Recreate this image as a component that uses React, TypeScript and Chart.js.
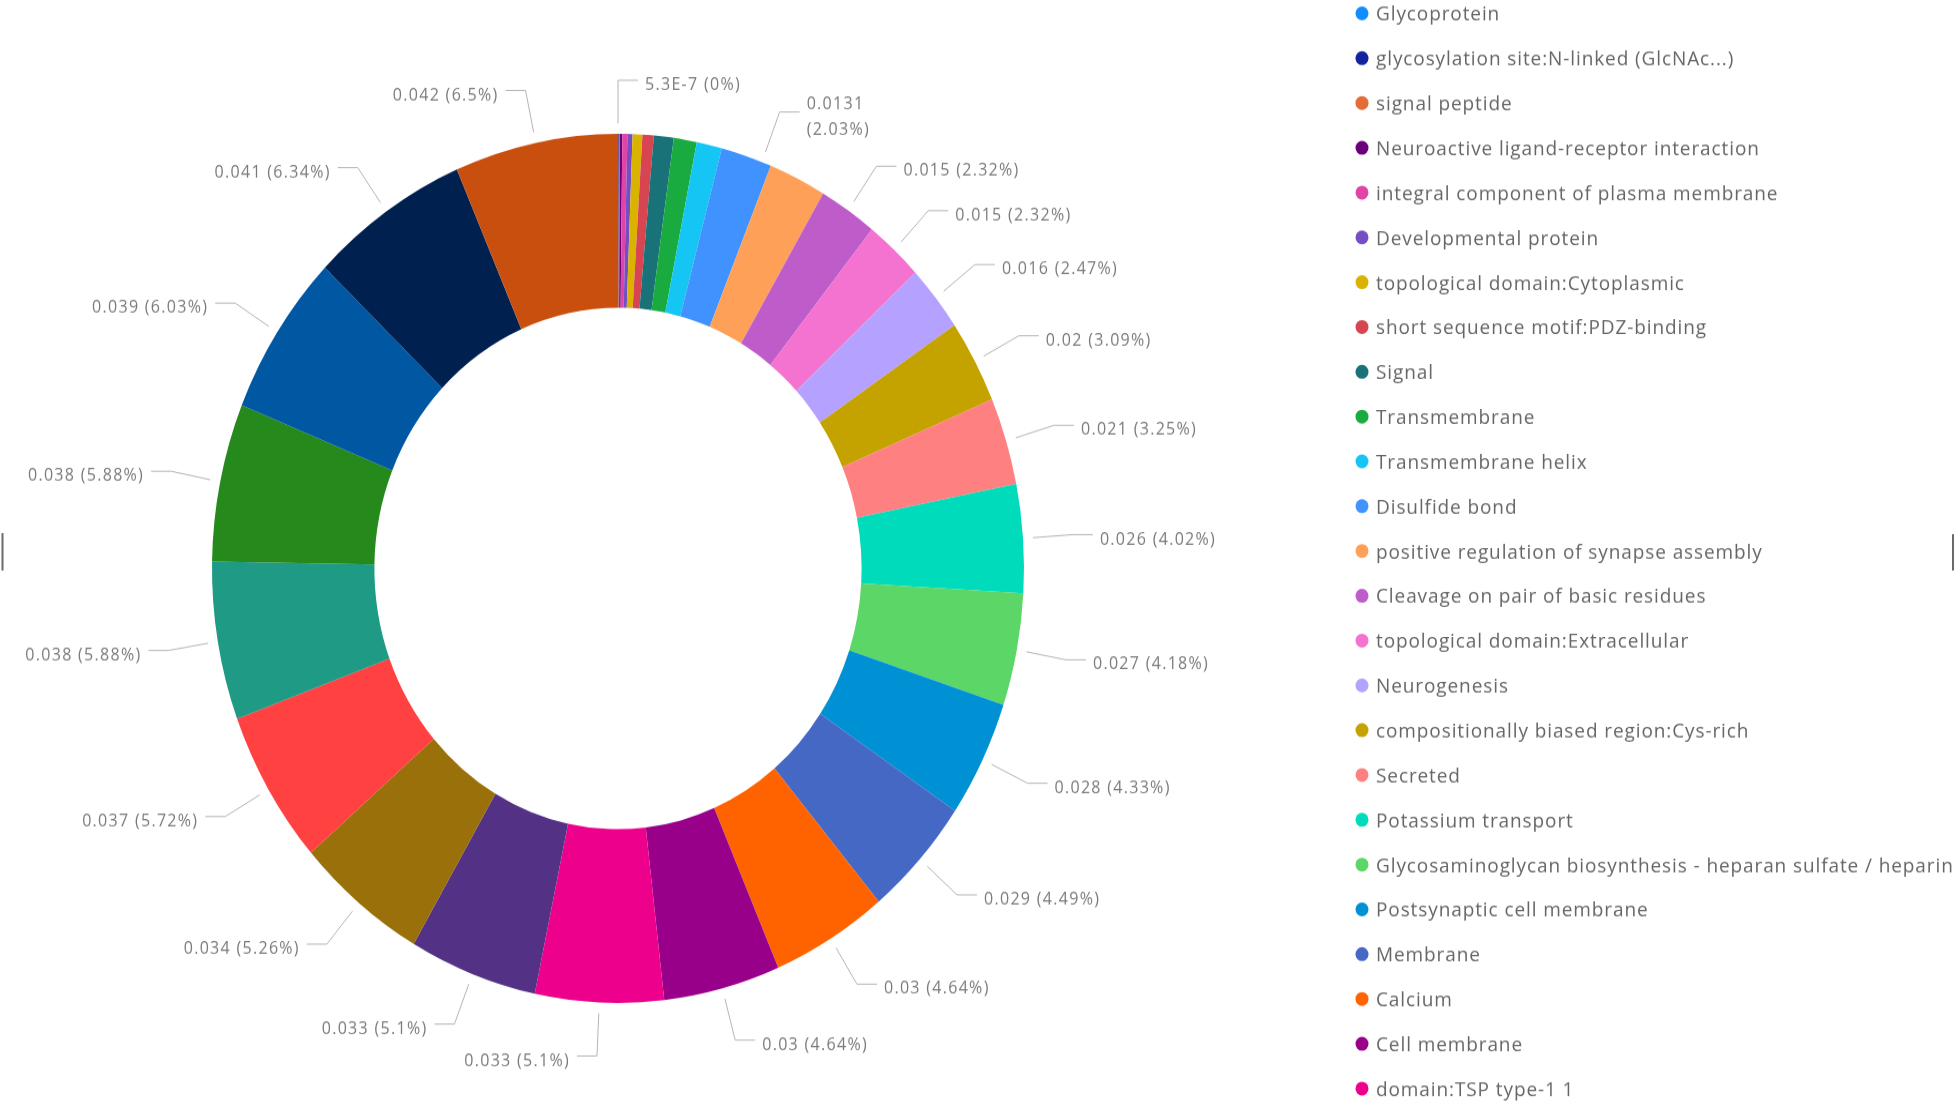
import React, { useEffect, useRef } from 'react';
import { Chart, registerables } from 'chart.js';

Chart.register(...registerables);

// ---- data ----
const categories: string[] = [
  'Glycoprotein',
  'glycosylation site:N-linked (GlcNAc...)',
  'signal peptide',
  'Neuroactive ligand-receptor interaction',
  'integral component of plasma membrane',
  'Developmental protein',
  'topological domain:Cytoplasmic',
  'short sequence motif:PDZ-binding',
  'Signal',
  'Transmembrane',
  'Transmembrane helix',
  'Disulfide bond',
  'positive regulation of synapse assembly',
  'Cleavage on pair of basic residues',
  'topological domain:Extracellular',
  'Neurogenesis',
  'compositionally biased region:Cys-rich',
  'Secreted',
  'Potassium transport',
  'Glycosaminoglycan biosynthesis - heparan sulfate / heparin',
  'Postsynaptic cell membrane',
  'Membrane',
  'Calcium',
  'Cell membrane',
  'domain:TSP type-1 1',
  'Category 26',
  'Category 27',
  'Category 28',
  'Category 29',
  'Category 30',
  'Category 31',
  'Category 32',
  'Category 33',
];

const values: number[] = [
  0.00000053, 0.0002, 0.0003, 0.0006, 0.0013, 0.0013, 0.0025, 0.0029, 0.0051, 0.0059, 0.0065,
  0.0131, 0.0148, 0.015, 0.015, 0.016, 0.02, 0.021, 0.026, 0.027, 0.028, 0.029, 0.03, 0.03,
  0.033, 0.033, 0.034, 0.037, 0.038, 0.038, 0.039, 0.041, 0.042,
];

const colors: string[] = [
  '#118DFF', '#12239E', '#E66C37', '#6B007B', '#E044A7', '#744EC2', '#D9B300', '#D64550',
  '#197278', '#1AAB40', '#15C6F4', '#4092FF', '#FFA058', '#BE5DC9', '#F472D0', '#B5A1FF',
  '#C4A200', '#FF8080', '#00DBBC', '#5BD667', '#0091D5', '#4668C5', '#FF6300', '#99008A',
  '#EC008C', '#533285', '#99700A', '#FF4141', '#1F9A85', '#25891C', '#0057A2', '#002050',
  '#C94F0F',
];

// data labels that the original hides (too crowded) and the one drawn on two lines
const hiddenDataLabels: string[] = [
  'glycosylation site:N-linked (GlcNAc...)',
  'signal peptide',
  'Neuroactive ligand-receptor interaction',
  'integral component of plasma membrane',
  'Developmental protein',
  'topological domain:Cytoplasmic',
  'short sequence motif:PDZ-binding',
  'Signal',
  'Transmembrane',
  'Transmembrane helix',
  'positive regulation of synapse assembly',
];
const wrappedDataLabels: string[] = ['Disulfide bond'];
// small angular nudge (degrees) of a leader line, as the original layout does
const leaderNudgeDeg: Record<string, number> = { 'Disulfide bond': 2.3 };

// ---- layout ----
const CANVAS_W = 1960;
const CANVAS_H = 1036;
const STRETCH_Y = 1109 / CANVAS_H;
const OUTER_R = 406;
const TEXT_DY = 4.5;

function formatValue(v: number): string {
  if (v !== 0 && Math.abs(v) < 1e-4) return v.toExponential(1).replace('e', 'E');
  return String(v);
}

const total = values.reduce((a, b) => a + b, 0);
function formatPct(v: number): string {
  return `${+((v / total) * 100).toFixed(2)}%`;
}

const outerLabelsPlugin = {
  id: 'outerLabels',
  afterDatasetsDraw(chart: any) {
    const ctx: CanvasRenderingContext2D = chart.ctx;
    const meta = chart.getDatasetMeta(0);
    ctx.save();
    ctx.font = '16px "Open Sans"';
    (ctx as any).letterSpacing = '1.3px';
    ctx.fillStyle = '#7a7a7a';
    ctx.strokeStyle = '#b4b4b4';
    ctx.lineWidth = 1;
    ctx.textBaseline = 'middle';
    meta.data.forEach((arc: any, i: number) => {
      const name = categories[i];
      if (hiddenDataLabels.includes(name)) return;
      const p = arc.getProps(['x', 'y', 'startAngle', 'endAngle', 'outerRadius'], true);
      const mid = (p.startAngle + p.endAngle) / 2 + ((leaderNudgeDeg[name] || 0) * Math.PI) / 180;
      const c = Math.cos(mid);
      const s = Math.sin(mid);
      const r1 = p.outerRadius + 10;
      const r2 = p.outerRadius + 50;
      const sx = p.x + c * r1;
      const sy = p.y + s * r1;
      const ex = p.x + c * r2;
      const ey = p.y + s * r2;
      const right = c >= -1e-9;
      const hx = ex + (right ? 20 : -20);
      ctx.beginPath();
      ctx.moveTo(sx, sy);
      ctx.lineTo(ex, ey);
      ctx.lineTo(hx, ey);
      ctx.stroke();
      const tx = hx + (right ? 7 : -7);
      ctx.textAlign = right ? 'left' : 'right';
      const v = values[i];
      if (wrappedDataLabels.includes(name)) {
        ctx.fillText(formatValue(v), tx, ey + TEXT_DY - 12);
        ctx.fillText(`(${formatPct(v)})`, tx, ey + TEXT_DY + 12);
      } else {
        ctx.fillText(`${formatValue(v)} (${formatPct(v)})`, tx, ey + TEXT_DY);
      }
    });
    ctx.restore();
  },
};

const sideLegendPlugin = {
  id: 'sideLegend',
  afterDraw(chart: any) {
    const ctx: CanvasRenderingContext2D = chart.ctx;
    ctx.save();
    ctx.font = '19px "Open Sans"';
    (ctx as any).letterSpacing = '0.9px';
    ctx.textBaseline = 'middle';
    ctx.textAlign = 'left';
    const x0 = 1362;
    const y0 = 12.5;
    const pitch = 41.85;
    categories.forEach((name, i) => {
      const y = y0 + i * pitch;
      ctx.beginPath();
      ctx.fillStyle = colors[i];
      ctx.arc(x0, y, 6.5, 0, Math.PI * 2);
      ctx.fill();
      ctx.fillStyle = '#666666';
      ctx.fillText(name, x0 + 14, y + 1.5);
    });
    // visual edge handles
    ctx.fillStyle = '#6a6a6a';
    ctx.fillRect(1.5, 498, 2, 35);
    ctx.fillRect(1952, 499, 2, 34);
    ctx.restore();
  },
};

export default function App() {
  const ref = useRef<HTMLCanvasElement>(null);
  useEffect(() => {
    if (!ref.current) return;
    const chart = new Chart(ref.current, {
      type: 'doughnut',
      data: {
        labels: categories,
        datasets: [
          {
            data: values,
            backgroundColor: colors,
            borderWidth: 0,
            radius: OUTER_R,
            cutout: '60%',
          } as any,
        ],
      },
      options: {
        animation: false,
        responsive: false,
        devicePixelRatio: 1,
        layout: { padding: { left: 0, right: 724, top: 26, bottom: 0 } },
        plugins: {
          legend: { display: false },
          tooltip: { enabled: false },
        },
      },
      plugins: [outerLabelsPlugin, sideLegendPlugin],
    });
    return () => chart.destroy();
  }, []);

  return (
    <div
      style={{
        position: 'absolute',
        left: 0,
        top: 0,
        width: CANVAS_W,
        height: 1109,
        overflow: 'hidden',
        background: '#ffffff',
      }}
    >
      <div
        style={{
          width: CANVAS_W,
          height: CANVAS_H,
          transform: `scaleY(${STRETCH_Y})`,
          transformOrigin: '0 0',
        }}
      >
        <canvas
          ref={ref}
          width={CANVAS_W}
          height={CANVAS_H}
          style={{ display: 'block', width: CANVAS_W, height: CANVAS_H }}
        />
      </div>
    </div>
  );
}
